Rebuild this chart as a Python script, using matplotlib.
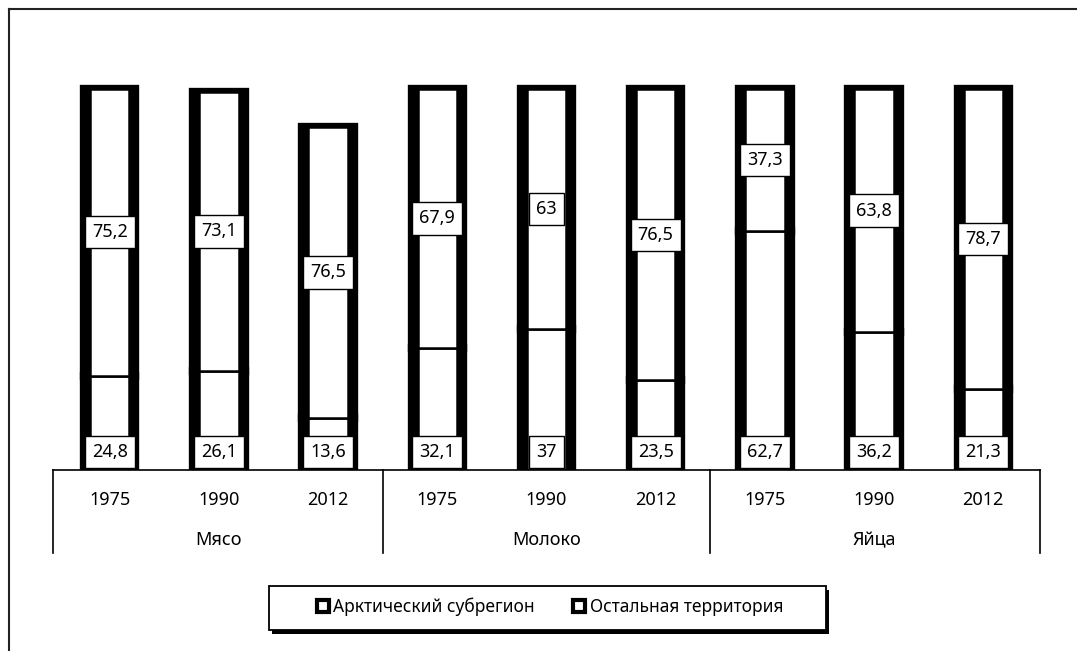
import matplotlib
matplotlib.use("Agg")
import matplotlib.pyplot as plt
from matplotlib.patches import Patch, Rectangle
from matplotlib.lines import Line2D
import numpy as np

plt.rcParams['font.family'] = ['Noto Sans', 'DejaVu Sans']

groups = ['Мясо', 'Молоко', 'Яйца']
years = ['1975', '1990', '2012']
arctic = [24.8, 26.1, 13.6, 32.1, 37, 23.5, 62.7, 36.2, 21.3]
rest = [75.2, 73.1, 76.5, 67.9, 63, 76.5, 37.3, 63.8, 78.7]
series_names = ['Арктический субрегион', 'Остальная территория']

W, H = 1077, 651


def fmt(v):
    return f"{v:g}".replace('.', ',')


fig = plt.figure(figsize=(W / 100, H / 100), dpi=100)
fig.patch.set_facecolor('white')

# axes: y=0 at 470px, 3.81 px per unit, ylim up to 105
scale = 3.81
top_val = 105
ax_h = scale * top_val
ax = fig.add_axes([53 / W, (H - 470) / H, (1040 - 53) / W, ax_h / H])
ax.set_xlim(-0.52, 8.52)
ax.set_ylim(0, top_val)

x = np.arange(len(arctic))
bottoms = np.array(arctic)
tops = np.array(rest)

# thick black outer columns
ax.bar(x, bottoms, width=0.47, color='black', edgecolor='black', linewidth=6)
ax.bar(x, tops, bottom=bottoms, width=0.47, color='black', edgecolor='black', linewidth=6)
# white inner columns
ax.bar(x, bottoms, width=0.36, color='white', edgecolor='black', linewidth=1.8)
ax.bar(x, tops, bottom=bottoms, width=0.36, color='white', edgecolor='black', linewidth=1.8)

box = dict(boxstyle='square,pad=0.4', facecolor='white', edgecolor='black', linewidth=1)
for i in range(len(x)):
    ax.annotate(fmt(arctic[i]), xy=(x[i], 0), xytext=(0, 13), textcoords='offset points',
                ha='center', va='center', fontsize=13, bbox=box)
    ax.text(x[i], arctic[i] + rest[i] / 2, fmt(rest[i]), ha='center', va='center',
            fontsize=13, bbox=box)

for s in ['top', 'right', 'left']:
    ax.spines[s].set_visible(False)
ax.spines['bottom'].set_linewidth(1.2)
ax.set_xticks([])
ax.set_yticks([])

tr = ax.get_xaxis_transform()
px = 1.0 / ax_h
for i in range(len(x)):
    ax.text(x[i], -30 * px, years[i % 3], transform=tr, ha='center', va='center', fontsize=13)
for g in range(len(groups)):
    ax.text(g * 3 + 1, -70 * px, groups[g], transform=tr, ha='center', va='center', fontsize=13)
for b in [-0.52, 2.5, 5.5, 8.52]:
    ax.plot([b, b], [0, -83 * px], transform=tr, clip_on=False, color='black', lw=1.2)

# outer chart frame (only top and left visible)
fig.add_artist(Line2D([9 / W, 1], [1 - 9 / H, 1 - 9 / H], transform=fig.transFigure,
                      color='#222222', lw=1.5))
fig.add_artist(Line2D([9 / W, 9 / W], [0, 1 - 9 / H], transform=fig.transFigure,
                      color='#222222', lw=1.5))

# legend frame with shadow
lx0, lx1, ly0, ly1 = 269, 826, 586, 630
fig.add_artist(Rectangle(((lx0 + 3) / W, 1 - (ly1 + 4) / H), (lx1 - lx0) / W, (ly1 - ly0) / H,
                         transform=fig.transFigure, facecolor='black', edgecolor='none'))
fig.add_artist(Rectangle((lx0 / W, 1 - ly1 / H), (lx1 - lx0) / W, (ly1 - ly0) / H,
                         transform=fig.transFigure, facecolor='white', edgecolor='black', lw=1.3))

handles = [Patch(facecolor='white', edgecolor='black', linewidth=3) for _ in series_names]
fig.legend(handles, series_names, loc='center', bbox_to_anchor=(550 / W, 1 - 607 / H),
           ncol=2, frameon=False, fontsize=12.5, handlelength=0.7, handleheight=0.7,
           handletextpad=0.25, columnspacing=2.2)

fig.savefig('out.png', dpi=100, facecolor='white')
